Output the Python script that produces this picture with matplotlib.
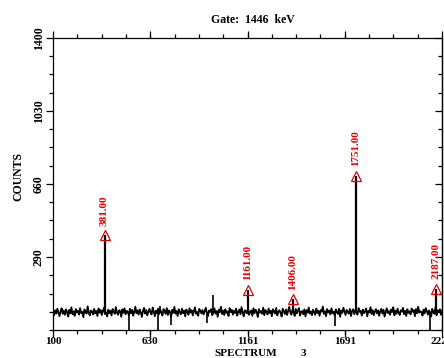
import numpy as np
import matplotlib
matplotlib.use('Agg')
import matplotlib.pyplot as plt
from matplotlib.ticker import FixedLocator

plt.rcParams['font.family'] = ['Liberation Serif', 'DejaVu Serif']
plt.rcParams['font.weight'] = 'bold'

# background counts (left to right)
noise = [
    12, -5, 20, 3, 28, 8, -10, 15, 30, 2, 18, -3, 25, 10, -12, 22, 5, 35, 0, 14,
    -8, 26, 9, 17, -2, 31, 6, 12, -15, 24, 11, 3, 40, 7, -6, 19, 13, -1, 27, 4,
    16, -9, 29, 8, 21, -4, 14, 33, 1, 10, -11, 23, 6, 18, -7, 26, 12, 2, 36, 9,
    -3, 20, 15, -13, 25, 7, 30, 0, 17, 11, -5, 28, 4, 22, -8, 13, 38, 5, 19, -2,
    24, 10, -14, 16, 32, 3, 21, -6, 12, 27, 8, -1, 34, 14, -10, 18, 6, 29, 1, 23,
    9, -7, 26, 15, 2, 31, -4, 19, 11, -12, 22, 7, 37, 3, 16, -9, 25, 10, 0, 28,
    5, 18, -11, 24, 13, -3, 30, 8, 20, -6, 14, 35, 2, 11, -8, 27, 17, 4, 21, -1,
    15, 33, 6, -10, 19, 12, 26, -5, 9, 29, 3, 16, -13, 23, 10, 38, 1, 18, -4, 25,
    7, 14, -9, 31, 11, 22, -2, 17, 6, 28, -7, 13, 24, 0, 36, 9, -11, 20, 15, 4,
    27, -3, 12, 19, -8, 30, 5, 23, 10, -14, 26, 8, 16, 2, 33, -5, 21, 12, -1, 29,
    6, 18, -10, 25, 14, 3, 32, -6, 11, 20, 7, -12, 28, 15, 1, 24, -4, 17, 37, 9,
    -2, 22, 13, -9, 27, 4, 19, 31, -7, 12, 16, 0, 25, -11, 20, 8, 34, 3, 14, -5,
    23, 10, -3, 29, 6, 17, -8, 21, 13, 39, 2, 15, -10, 26, 9, 18, -1, 30, 5, 12,
    -6, 24, 11, 1, 28, -13, 19, 7, 33, 14, -4, 22, 10, 3, 27, -9, 16, 25, 0, 20,
    8, -2, 31, 12, 18, -7, 23, 5, 14, 29, -11, 17, 9, 36, 1, 21, -5, 13, 26, 4,
    19, -8, 15, 27, 3, 22, -12, 10, 30, 6, 16, -3, 24, 11, 35, -6, 18, 2, 28, 9,
    -4, 20, 13, 32, 0, 17, -9, 25, 7, 14, -1, 29, 12, 21, -10, 26, 5, 38, 8, 15,
    11, -7, 23, 4, 30, 16, -2, 19, 9, -12, 27, 13, 2, 34, -5, 20, 10, 25, -3, 18,
]
base_level = 10

# labelled peaks
peak_ch = [381, 1161, 1406, 1751, 2187]
peak_counts = [400, 125, 75, 700, 130]
peak_labels = ['381.00', '1161.00', '1406.00', '1751.00', '2187.00']

# other single-channel spikes and dips
spike_ch = [970, 682]
spike_counts = [95, 40]
dip_ch = [513, 671, 742, 937, 1639, 2155]
dip_counts = [-80, -80, -55, -45, -60, -80]

xticks = [100, 630, 1161, 1691, 2221]
yticks = [290, 660, 1030, 1400]

fig = plt.figure(figsize=(4.44, 3.58), dpi=100)
ax = fig.add_axes([53/444, 28/358, 389/444, 292/358])

ch = np.linspace(100, 2221, len(noise))
ax.plot(ch, noise, color='black', lw=1.3)
ax.vlines(spike_ch + dip_ch, base_level, spike_counts + dip_counts, color='black', lw=1.2)
ax.vlines(peak_ch, base_level, peak_counts, color='black', lw=1.6)

red = '#e00000'
ax.plot(peak_ch, peak_counts, ls='none', marker='^', ms=7, mfc='none', mec=red, mew=0.9)
for c, h, lab in zip(peak_ch, peak_counts, peak_labels):
    ax.annotate(lab, (c, h), xytext=(0, 7), textcoords='offset points',
                rotation=90, ha='center', va='bottom', color=red, fontsize=8)

ax.set_xlim(100, 2221)
ax.set_ylim(-80, 1400)
ax.set_xticks(xticks)
ax.set_yticks(yticks)
ax.xaxis.set_minor_locator(FixedLocator(np.linspace(100, 2221, 17)))
ax.yaxis.set_minor_locator(FixedLocator(np.arange(-80, 1401, 92.5)))
ax.tick_params(which='both', direction='out', top=True, width=0.9)
ax.tick_params(which='major', length=5, labelsize=8.5, pad=1)
ax.tick_params(axis='x', which='major', pad=0, labelsize=8)
ax.tick_params(which='minor', length=3)
for lab in ax.get_yticklabels():
    lab.set_rotation(90)
    lab.set_va('center')
for s in ax.spines.values():
    s.set_linewidth(0.9)

# right-hand ticks point inwards on the original
rax = ax.secondary_yaxis('right')
rax.set_yticks(yticks)
rax.yaxis.set_minor_locator(FixedLocator(np.arange(-80, 1401, 92.5)))
rax.tick_params(which='both', direction='in', width=0.9, labelright=False)
rax.tick_params(which='major', length=5)
rax.tick_params(which='minor', length=3)
rax.spines['right'].set_linewidth(0.9)

fig.text(253/444, 1 - 20/358, 'Gate:  1446  keV', ha='center', va='center', fontsize=8.5)
fig.text(214/444, 1 - 353/358, 'SPECTRUM', ha='left', va='center', fontsize=8)
fig.text(301/444, 1 - 353/358, '3', ha='left', va='center', fontsize=8)
fig.text(18/444, 1 - 177/358, 'COUNTS', rotation=90, ha='center', va='center', fontsize=8.5)

fig.savefig('out.png', dpi=100)
